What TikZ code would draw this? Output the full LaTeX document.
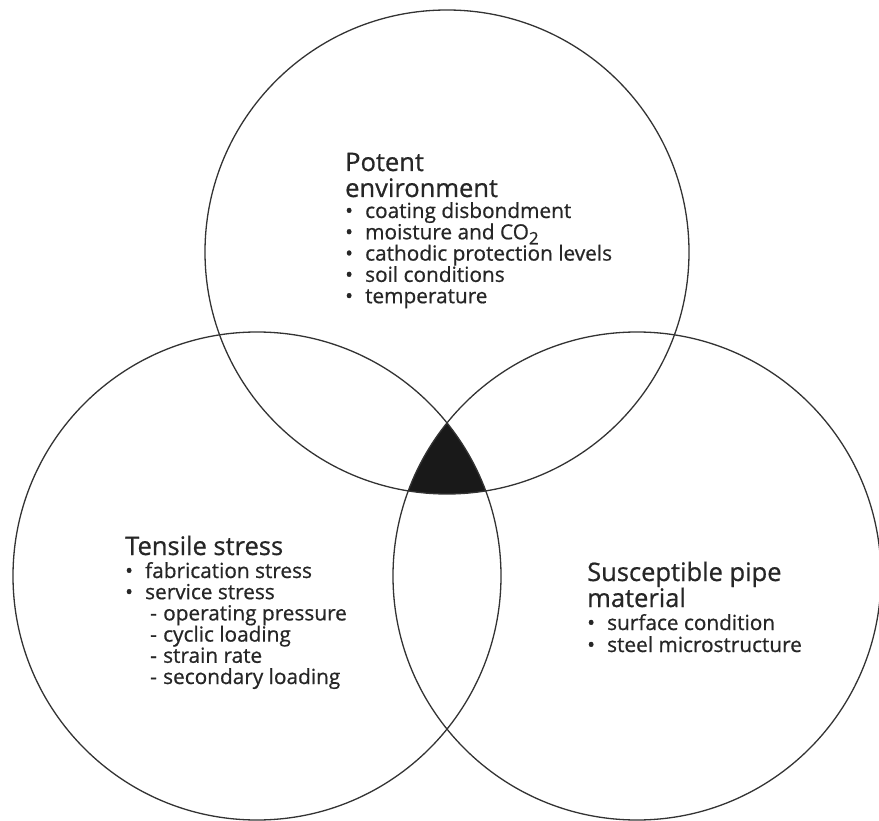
\documentclass[tikz,border=0pt]{standalone}
\usepackage{fontspec}
\setmainfont{Open Sans}[BoldFont={Open Sans},BoldFeatures={FakeBold=0.7}]
\begin{document}
\begin{tikzpicture}[x=1pt,y=-1pt,
  ring/.style={draw=black!80,line width=1.3pt},
  ttl/.style={anchor=base west,inner sep=0pt,text=black!85,font=\fontsize{25.5}{26}\selectfont\bfseries},
  itm/.style={anchor=base west,inner sep=0pt,text=black!85,font=\fontsize{20.8}{21}\selectfont\bfseries}]
\useasboundingbox (0,0) rectangle (879,821);
\coordinate (T) at (447,252);
\coordinate (L) at (257,576);
\coordinate (R) at (637,576);
% shared region
\begin{scope}
  \clip (L) circle[radius=244];
  \clip (R) circle[radius=244];
  \fill[black!90] (T) circle[radius=242];
\end{scope}
\draw[ring] (T) circle[radius=242];
\draw[ring] (L) circle[radius=244];
\draw[ring] (R) circle[radius=244];
\newcommand\bul{\makebox[20pt][l]{•}}
\newcommand\dsh{\hspace*{25pt}\makebox[13pt][l]{-}}
% top block
\node[ttl] (t0) at (345,171) {Potent};
\node[ttl] (t1) at (345,197) {environment};
\node[itm] (t2) at (345,218) {\bul coating disbondment};
\node[itm] (t3) at (345,239.3) {\bul moisture and CO{\fontsize{17}{17}\selectfont\raisebox{-5pt}{2}}};
\node[itm] (t4) at (345,260.6) {\bul cathodic protection levels};
\node[itm] (t5) at (345,281.9) {\bul soil conditions};
\node[itm] (t6) at (345,303.2) {\bul temperature};
% left block
\node[ttl] (l0) at (125,555) {Tensile stress};
\node[itm] (l1) at (125,578) {\bul fabrication stress};
\node[itm] (l2) at (125,599.2) {\bul service stress};
\node[itm] (l3) at (125,620.4) {\dsh operating pressure};
\node[itm] (l4) at (125,641.6) {\dsh cyclic loading};
\node[itm] (l5) at (125,662.8) {\dsh strain rate};
\node[itm] (l6) at (125,684) {\dsh secondary loading};
% right block
\node[ttl] (r0) at (587,581) {Susceptible pipe};
\node[ttl] (r1) at (587,607) {material};
\node[itm] (r2) at (587,630) {\bul surface condition};
\node[itm] (r3) at (587,652) {\bul steel microstructure};
\end{tikzpicture}
\end{document}
